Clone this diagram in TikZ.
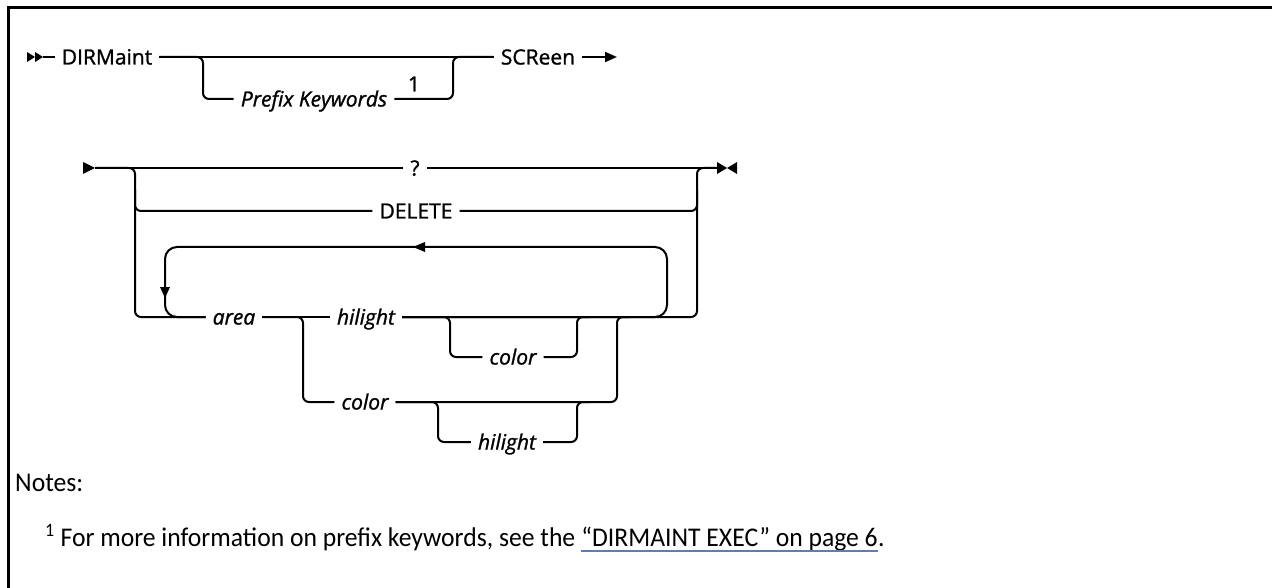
\documentclass[tikz,border=0pt]{standalone}
\usepackage{fontspec}
\setmainfont{Open Sans}
\newfontfamily\dfont{Open Sans}[FakeBold=1.2]
\newfontfamily\notefont{Carlito}[FakeStretch=0.95]
\usetikzlibrary{arrows.meta}
\definecolor{linkc}{HTML}{5B7DB8}
\begin{document}
\begin{tikzpicture}[x=1pt,y=-1pt,
  ln/.style={line width=2pt, rounded corners=6pt},
  lp/.style={line width=2pt, rounded corners=12pt},
  lbl/.style={font=\dfont\fontsize{21}{25}\selectfont, inner xsep=7pt, inner ysep=0pt, text height=15pt, text depth=0pt},
  ilbl/.style={lbl, font=\dfont\fontsize{21}{25}\selectfont\itshape},
  notes/.style={font=\notefont\fontsize{27}{31}\selectfont, inner sep=0pt, anchor=base west},
  tipa/.style={line width=2pt, -{Triangle[length=12pt,width=10pt]}}]
\useasboundingbox (0,0) rectangle (1272,588);
\draw[line width=3pt] (8,592) -- (8,8) -- (1276,8);

% ---------- row 1 ----------
\fill (27,52) -- (35,57) -- (27,62) -- cycle;
\fill (35,52) -- (43,57) -- (35,62) -- cycle;
\coordinate (s1) at (43,57);
\node[lbl] (dir) at (107,57) {DIRMaint};
\node[ilbl] (pk) at (314,99) {Prefix Keywords};
\node[lbl] (n1) at (414,84) {1};
\node[lbl] (scr) at (538,57) {SCReen};
\coordinate (b1) at (203,57);
\coordinate (b2) at (453,57);
\coordinate (e1) at (617,57);
\draw[ln] (s1) -- (dir.west);
\draw[ln] (dir.east) -- (scr.west);
\draw[ln] (dir.east) -- (b1) -- (b1 |- pk) -- (pk.west);
\draw[ln] (pk.east) -- (b2 |- pk) -- (b2) -- (scr.west);
\draw[tipa] (scr.east) -- (e1);

% ---------- row 2 ----------
\fill (83,162) -- (95,168) -- (83,174) -- cycle;
\coordinate (s2) at (95,168);
\node[lbl] (q) at (415,168) {?};
\node[lbl] (del) at (416,211) {DELETE};
\node[ilbl] (area) at (234,317) {area};
\node[ilbl] (hil) at (366,317) {hilight};
\node[ilbl] (col1) at (513,357) {color};
\node[ilbl] (col2) at (365,402) {color};
\node[ilbl] (hil2) at (507,442) {hilight};
\coordinate (e2) at (717,168);
\coordinate (L) at (135,168);
\coordinate (Ld) at (135,190);
\coordinate (R) at (697,168);
\coordinate (Rd) at (697,190);
\coordinate (LT) at (165,247);
\coordinate (RT) at (667,247);
\coordinate (A1) at (303,317);
\coordinate (A2) at (617,317);
\coordinate (A2r) at (630,317);
\coordinate (H1) at (450,317);
\coordinate (H2) at (577,317);
\coordinate (H2r) at (590,317);
\coordinate (C1) at (438,402);
\coordinate (C2) at (577,402);
\coordinate (C2r) at (590,402);

\draw[ln] (s2) -- (q.west);
\draw[ln] (q.east) -- (e2);
\draw[ln] (s2) -- (L) -- (L |- area) -- (area.west);
\draw[ln] (Ld) -- (L |- del) -- (del.west);
\draw[ln] (del.east) -- (R |- del) -- (Rd);
\draw[ln] (hil.east) -- (R |- hil) -- (R) -- (e2);
% end marker
\fill (717,162) -- (727,168) -- (717,174) -- cycle;
\fill (737,162) -- (727,168) -- (737,174) -- cycle;

% repeat loop
\draw[lp] (hil.east) -- (RT |- hil) -- (RT) -- (LT) -- (LT |- area) -- (area.west);
\fill (413,247) -- (425,242) -- (425,252) -- cycle;
\fill (165,298) -- (160,287) -- (170,287) -- cycle;

% area -> hilight / color
\draw[ln] (area.east) -- (hil.west);
\draw[ln] (area.east) -- (A1) -- (A1 |- col2) -- (col2.west);
\draw[ln] (col2.east) -- (A2 |- col2) -- (A2) -- (A2r);
% optional color after hilight
\draw[ln] (hil.east) -- (H1) -- (H1 |- col1) -- (col1.west);
\draw[ln] (col1.east) -- (H2 |- col1) -- (H2) -- (H2r);
% optional hilight after color
\draw[ln] (col2.east) -- (C1) -- (C1 |- hil2) -- (hil2.west);
\draw[ln] (hil2.east) -- (C2 |- hil2) -- (C2) -- (C2r);

% ---------- notes ----------
\node[notes] (nt) at (15,491) {Notes:};
\node[notes] (fnA) at (45,546) {\textsuperscript{1} For more information on prefix keywords, see the};
\node[notes] (fnB) at ([xshift=5.8pt]fnA.base east) {“DIRMAINT EXEC” on page 6};
\node[notes] (fnC) at (fnB.base east) {.};
\draw[linkc, line width=1.5pt] ([yshift=-5pt]fnB.base west) -- ([yshift=-5pt]fnB.base east);
\end{tikzpicture}
\end{document}
